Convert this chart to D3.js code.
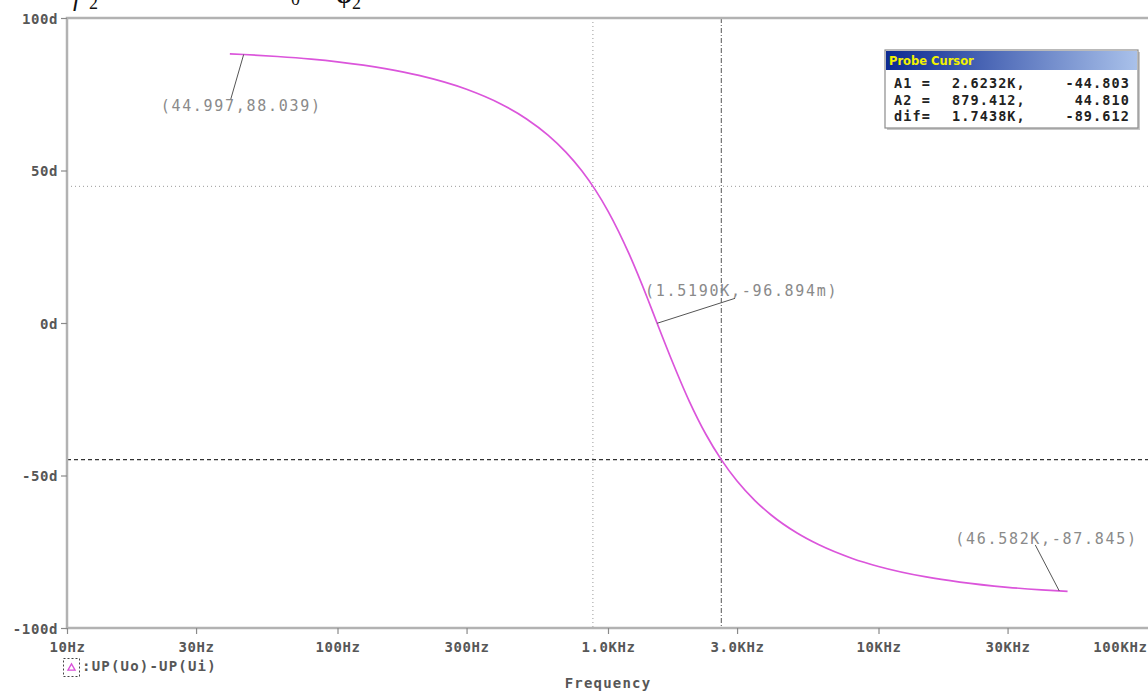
<!DOCTYPE html>
<html>
<head>
<meta charset="utf-8">
<script src="https://cdn.jsdelivr.net/npm/d3@7"></script>
<style>
  html, body { margin: 0; padding: 0; background: #fff; overflow: hidden; }
  svg { display: block; }
</style>
</head>
<body>
<script>
/* PSpice probe plot - phase of Vo/Vi */

// data
const freqHz = [40, 45, 60, 80, 100, 150, 200, 300, 400, 500, 600, 700, 800, 900, 1000,
                1200, 1400, 1519, 1700, 2000, 2300, 2623, 3000, 3500, 4000, 5000, 6000,
                8000, 10000, 15000, 20000, 30000, 40000, 46582, 50000];
const phaseDeg = [88.26, 88.04, 87.38, 86.51, 85.63, 83.43, 81.20, 76.65, 71.91, 66.91, 61.61,
                  55.96, 49.92, 43.49, 36.70, 22.40, 8.05, -0.10, -11.06, -25.76, -36.48,
                  -44.80, -51.82, -58.31, -62.87, -68.87, -72.65, -77.19, -79.82, -83.26,
                  -84.96, -86.65, -87.49, -87.85, -87.99];

const xTicks = [10, 30, 100, 300, 1000, 3000, 10000, 30000, 100000];
const xTickLabels = ['10Hz', '30Hz', '100Hz', '300Hz', '1.0KHz', '3.0KHz', '10KHz', '30KHz', '100KHz'];
const yTicks = [-100, -50, 0, 50, 100];
const yTickLabels = ['-100d', '-50d', '0d', '50d', '100d'];

// cursors: A1, A2
const cursorFreq = [2623.2, 879.412];
const cursorPhase = [-44.803, 44.810];

// marked points
const markFreq = [44.997, 1519.0, 46582];
const markPhase = [88.039, -0.096894, -87.845];
const markLabel = ['(44.997,88.039)', '(1.5190K,-96.894m)', '(46.582K,-87.845)'];

// probe cursor table
const probeRows = ['A1 =', 'A2 =', 'dif='];
const probeX = ['2.6232K,', '879.412,', '1.7438K,'];
const probeY = ['-44.803', '44.810', '-89.612'];

const traceName = 'UP(Uo)-UP(Ui)';

const W = 1148, H = 691;
const svg = d3.select("body").append("svg")
    .attr("width", W)
    .attr("height", H);

svg.append("rect").attr("width", W).attr("height", H).attr("fill", "#fff");

const x = d3.scaleLog().domain([10, 100000]).range([67, 1149]);
const y = d3.scaleLinear().domain([-100, 100]).range([628, 18]);

const pixFont = "'DejaVu Sans Mono', monospace";
const grey = "#575757";

// cropped fragments of the text above the figure
const frag = svg.append("g").attr("fill", "#111").style("font-family", "'Liberation Serif', serif");
frag.append("text").attr("x", 73).attr("y", 6).style("font-size", "26px").style("font-style", "italic").text("f");
frag.append("text").attr("x", 89).attr("y", 9).style("font-size", "18px").text("2");
frag.append("text").attr("x", 291).attr("y", 5).style("font-size", "18px").text("0");
frag.append("text").attr("x", 336).attr("y", 3).style("font-size", "26px").style("font-weight", "bold").text("φ");
frag.append("text").attr("x", 352).attr("y", 9).style("font-size", "18px").text("2");

// cursor lines (behind the trace)
const cur = svg.append("g");
// A2 - dotted, light
cur.append("line")
    .attr("x1", x(cursorFreq[1])).attr("x2", x(cursorFreq[1]))
    .attr("y1", y(100)).attr("y2", y(-100))
    .attr("stroke", "#9a9a9a").attr("stroke-width", 1).attr("stroke-dasharray", "1,3");
cur.append("line")
    .attr("x1", x(10)).attr("x2", W)
    .attr("y1", y(cursorPhase[1])).attr("y2", y(cursorPhase[1]))
    .attr("stroke", "#9a9a9a").attr("stroke-width", 1).attr("stroke-dasharray", "1,3");
// A1 - dashed, dark
cur.append("line")
    .attr("x1", x(cursorFreq[0])).attr("x2", x(cursorFreq[0]))
    .attr("y1", y(100)).attr("y2", y(-100))
    .attr("stroke", "#555").attr("stroke-width", 1).attr("stroke-dasharray", "5,2,1,2");
cur.append("line")
    .attr("x1", x(10)).attr("x2", W)
    .attr("y1", y(cursorPhase[0])).attr("y2", y(cursorPhase[0]))
    .attr("stroke", "#333").attr("stroke-width", 1.2).attr("stroke-dasharray", "4,3");

// frame
svg.append("path")
    .attr("d", `M${W},${y(100)} H${x(10)} V${y(-100)} H${W}`)
    .attr("fill", "none").attr("stroke", "#b2b2b2").attr("stroke-width", 2.5);

// axes
const yAxis = svg.append("g")
    .attr("transform", `translate(${x(10)},0)`)
    .call(d3.axisLeft(y).tickValues(yTicks).tickSize(6).tickFormat((d, i) => yTickLabels[i]));
const xAxis = svg.append("g")
    .attr("transform", `translate(0,${y(-100)})`)
    .call(d3.axisBottom(x).tickValues(xTicks).tickSize(6).tickFormat((d, i) => xTickLabels[i]));

[yAxis, xAxis].forEach(g => {
    g.select(".domain").remove();
    g.selectAll(".tick line").attr("stroke", "#8a8a8a").attr("stroke-width", 1.2);
    g.selectAll(".tick text")
        .attr("fill", grey)
        .style("font-family", pixFont)
        .style("font-weight", "bold")
        .style("font-size", "14px")
        .style("letter-spacing", "0.6px");
});
yAxis.selectAll(".tick text").attr("x", -9).attr("dy", "0.36em");
xAxis.selectAll(".tick text").attr("y", 14);
// last label is pulled inside the window
xAxis.selectAll(".tick text").filter(d => d === 100000).attr("text-anchor", "end").attr("x", -2);

// trace
const line = d3.line()
    .x((d, i) => x(freqHz[i]))
    .y((d, i) => y(phaseDeg[i]))
    .curve(d3.curveMonotoneX);
svg.append("path")
    .datum(phaseDeg)
    .attr("d", line)
    .attr("fill", "none")
    .attr("stroke", "#db55db")
    .attr("stroke-width", 1.7);

// marked point labels
const lead = [[-13, 45], [78, -25], [-24, -46]];
const txt = [[-83, 57], [-12, -27], [-104, -47]];
const marks = svg.append("g");
markFreq.forEach((f, i) => {
    const px = x(f), py = y(markPhase[i]);
    marks.append("line")
        .attr("x1", px).attr("y1", py)
        .attr("x2", px + lead[i][0]).attr("y2", py + lead[i][1])
        .attr("stroke", "#555").attr("stroke-width", 1);
    marks.append("text")
        .attr("x", px + txt[i][0]).attr("y", py + txt[i][1])
        .attr("fill", "#8a8a8a")
        .style("font-family", pixFont)
        .style("font-size", "15px")
        .style("letter-spacing", "1.7px")
        .text(markLabel[i]);
});

// probe cursor box
const defs = svg.append("defs");
const grad = defs.append("linearGradient").attr("id", "titleGrad");
grad.append("stop").attr("offset", "0%").attr("stop-color", "#0c2a92");
grad.append("stop").attr("offset", "100%").attr("stop-color", "#a9c1ea");

const box = svg.append("g").attr("transform", "translate(885,50)");
box.append("rect").attr("x", 2).attr("y", 2).attr("width", 253).attr("height", 78).attr("fill", "#c8c8c8");
box.append("rect").attr("width", 253).attr("height", 78).attr("fill", "#fff")
    .attr("stroke", "#8c8c8c").attr("stroke-width", 1.2);
box.append("rect").attr("x", 1).attr("y", 1).attr("width", 251).attr("height", 19).attr("fill", "url(#titleGrad)");
box.append("text").attr("x", 4).attr("y", 15)
    .attr("fill", "#f2f200")
    .style("font-family", "'DejaVu Sans', sans-serif")
    .style("font-weight", "bold")
    .style("font-size", "11.5px")
    .text("Probe Cursor");
probeRows.forEach((r, i) => {
    const by = 38 + i * 16.5;
    const t = box.append("g")
        .attr("fill", "#222")
        .style("font-family", pixFont)
        .style("font-weight", "bold")
        .style("font-size", "13.5px")
        .style("letter-spacing", "1.1px");
    t.append("text").attr("x", 9).attr("y", by).text(r);
    t.append("text").attr("x", 67).attr("y", by).text(probeX[i]);
    t.append("text").attr("x", 245).attr("y", by).attr("text-anchor", "end").text(probeY[i]);
});

// legend
const leg = svg.append("g");
leg.append("rect").attr("x", 63.5).attr("y", 658.5).attr("width", 16).attr("height", 18)
    .attr("fill", "none").attr("stroke", "#444").attr("stroke-width", 1).attr("stroke-dasharray", "2,2");
leg.append("path")
    .attr("d", d3.symbol(d3.symbolTriangle, 22)())
    .attr("transform", "translate(71.5,668)")
    .attr("fill", "none").attr("stroke", "#d94ed9").attr("stroke-width", 1.3);
leg.append("text").attr("x", 82).attr("y", 671)
    .attr("fill", grey)
    .style("font-family", pixFont)
    .style("font-weight", "bold")
    .style("font-size", "14px")
    .style("letter-spacing", "1.2px")
    .text(":" + traceName);

svg.append("text")
    .attr("x", (x(10) + x(100000)) / 2).attr("y", 688)
    .attr("text-anchor", "middle")
    .attr("fill", grey)
    .style("font-family", pixFont)
    .style("font-weight", "bold")
    .style("font-size", "14px")
    .style("letter-spacing", "1.2px")
    .text("Frequency");
</script>
</body>
</html>
